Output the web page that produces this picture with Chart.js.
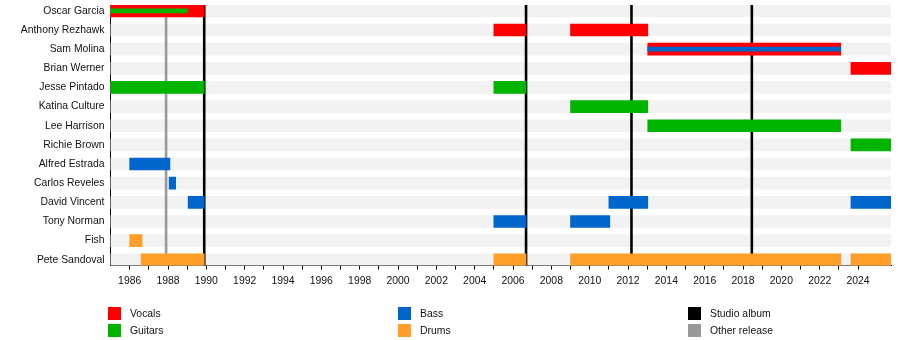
<!DOCTYPE html>
<html>
<head>
<meta charset="utf-8">
<script src="https://cdn.jsdelivr.net/npm/chart.js@4"></script>
<style>
  body { margin: 0; background: #fff; }
  #wrap { position: relative; width: 900px; height: 340px; }
  #legend { position: absolute; left: 0; top: 0; width: 900px; height: 340px; pointer-events: none;
    font-family: "Liberation Sans", Arial, sans-serif; font-size: 10.4px; color: #111; }
  .item { position: absolute; height: 13px; line-height: 13px; white-space: nowrap; }
  .item span.sw { position: absolute; left: 0; top: 0; width: 13px; height: 13px; }
  .item span.tx { position: absolute; left: 22px; top: 0; }
</style>
</head>
<body>
<div id="wrap">
  <canvas id="mainChart"></canvas>
  <div id="legend"></div>
</div>
<script>
const members = [
  "Oscar Garcia", "Anthony Rezhawk", "Sam Molina", "Brian Werner", "Jesse Pintado",
  "Katina Culture", "Lee Harrison", "Richie Brown", "Alfred Estrada", "Carlos Reveles",
  "David Vincent", "Tony Norman", "Fish", "Pete Sandoval"
];

const startYear = 1985;
const endYear = 2025.72;

// [member index, from, to]
const vocals = [
  [0, 1985, 1989.89], [1, 2005, 2006.68], [1, 2009, 2013.03],
  [2, 2013.03, 2023.1], [3, 2023.63, 2025.72]
];
const guitars = [
  [4, 1985, 1989.89], [4, 2005, 2006.68], [5, 2009, 2013.03],
  [6, 2013.03, 2023.1], [7, 2023.63, 2025.72]
];
const bass = [
  [8, 1986, 1988.1], [9, 1988.06, 1988.4], [10, 1989.05, 1989.89],
  [10, 2011, 2013.03], [10, 2023.63, 2025.72], [11, 2005, 2006.68], [11, 2009, 2011.05]
];
const drums = [
  [12, 1986, 1986.65], [13, 1986.6, 1989.89], [13, 2005, 2006.68],
  [13, 2009, 2023.1], [13, 2023.63, 2025.72]
];
// second instrument, drawn as a thin line
const guitarsSecond = [[0, 1985, 1989.0]];
const bassSecond = [[2, 2013.03, 2023.1]];

const studioAlbums = [1989.89, 2006.68, 2012.18, 2018.46];
const otherReleases = [1987.9];

const colors = {
  Vocals: "#ff0000",
  Guitars: "#00b400",
  Bass: "#0066cc",
  Drums: "#ff9f29",
  "Studio album": "#000000",
  "Other release": "#999999"
};

const toPoints = arr => arr.map(r => ({ x: [r[1], r[2]], y: r[0] }));

const datasets = [
  {
    label: "bg",
    data: members.map((m, i) => ({ x: [startYear, endYear], y: i })),
    backgroundColor: "#f2f2f2",
    barThickness: 12,
    order: 10
  },
  { label: "Vocals", data: toPoints(vocals), backgroundColor: colors.Vocals, barThickness: 12, order: 4 },
  { label: "Guitars", data: toPoints(guitars), backgroundColor: colors.Guitars, barThickness: 12, order: 3 },
  { label: "Bass", data: toPoints(bass), backgroundColor: colors.Bass, barThickness: 12, order: 2 },
  { label: "Drums", data: toPoints(drums), backgroundColor: colors.Drums, barThickness: 12, order: 1 },
  { label: "Guitars2", data: toPoints(guitarsSecond), backgroundColor: colors.Guitars, barThickness: 4, order: 0 },
  { label: "Bass2", data: toPoints(bassSecond), backgroundColor: colors.Bass, barThickness: 4, order: 0 }
];

// release lines, drawn over the stripes but under the bars
const releaseLines = {
  id: "releaseLines",
  afterDatasetDraw(chart, args) {
    if (args.index !== 0) return;
    const { ctx, chartArea } = chart;
    const x = chart.scales.x;
    ctx.save();
    const draw = (years, color) => {
      ctx.strokeStyle = color;
      ctx.lineWidth = 2.6;
      years.forEach(y => {
        const px = x.getPixelForValue(y);
        ctx.beginPath();
        ctx.moveTo(px, chartArea.top);
        ctx.lineTo(px, chartArea.bottom);
        ctx.stroke();
      });
    };
    draw(otherReleases, colors["Other release"]);
    draw(studioAlbums, colors["Studio album"]);
    ctx.restore();
  }
};

const font = { family: "'Liberation Sans', Arial, sans-serif", size: 10.4 };

new Chart(document.getElementById("mainChart"), {
  type: "bar",
  data: { datasets },
  options: {
    indexAxis: "y",
    responsive: true,
    maintainAspectRatio: false,
    animation: false,
    grouped: false,
    borderWidth: 0,
    layout: { padding: { left: 0, right: 9, top: 5, bottom: 44.5 } },
    plugins: { legend: { display: false }, tooltip: { enabled: false } },
    scales: {
      x: {
        type: "linear",
        min: startYear,
        max: endYear,
        afterBuildTicks: s => {
          s.ticks = s.ticks.filter(t => Number.isInteger(t.value) && t.value > startYear);
        },
        afterFit: s => { s.height = 30; s.paddingLeft = 0; s.paddingRight = 0; },
        ticks: {
          stepSize: 1,
          autoSkip: false,
          maxRotation: 0,
          padding: 5,
          color: "#111",
          font,
          callback: v => (v % 2 === 0 ? String(v) : "")
        },
        grid: { drawOnChartArea: false, drawTicks: true, tickLength: 4, color: "#000" },
        border: { color: "#000", width: 1 }
      },
      y: {
        type: "linear",
        reverse: true,
        offset: false,
        min: -0.306,
        max: 13.3,
        afterBuildTicks: s => {
          s.ticks = members.map((m, i) => ({ value: i }));
        },
        afterFit: s => { s.width = 110.5; s.paddingTop = 0; s.paddingBottom = 0; },
        ticks: {
          autoSkip: false,
          padding: 6,
          color: "#111",
          font,
          callback: v => members[v]
        },
        grid: { offset: false, drawOnChartArea: false, drawTicks: false },
        border: { color: "#000", width: 1 }
      }
    }
  },
  plugins: [releaseLines]
});

// legend in three columns
const legendCols = [["Vocals", "Guitars"], ["Bass", "Drums"], ["Studio album", "Other release"]];
const colX = [108, 398, 688];
const rowY = [307, 324];
const legend = document.getElementById("legend");
legendCols.forEach((col, c) => {
  col.forEach((name, r) => {
    const d = document.createElement("div");
    d.className = "item";
    d.style.left = colX[c] + "px";
    d.style.top = rowY[r] + "px";
    d.innerHTML = '<span class="sw" style="background:' + colors[name] + '"></span><span class="tx">' + name + "</span>";
    legend.appendChild(d);
  });
});
</script>
</body>
</html>
